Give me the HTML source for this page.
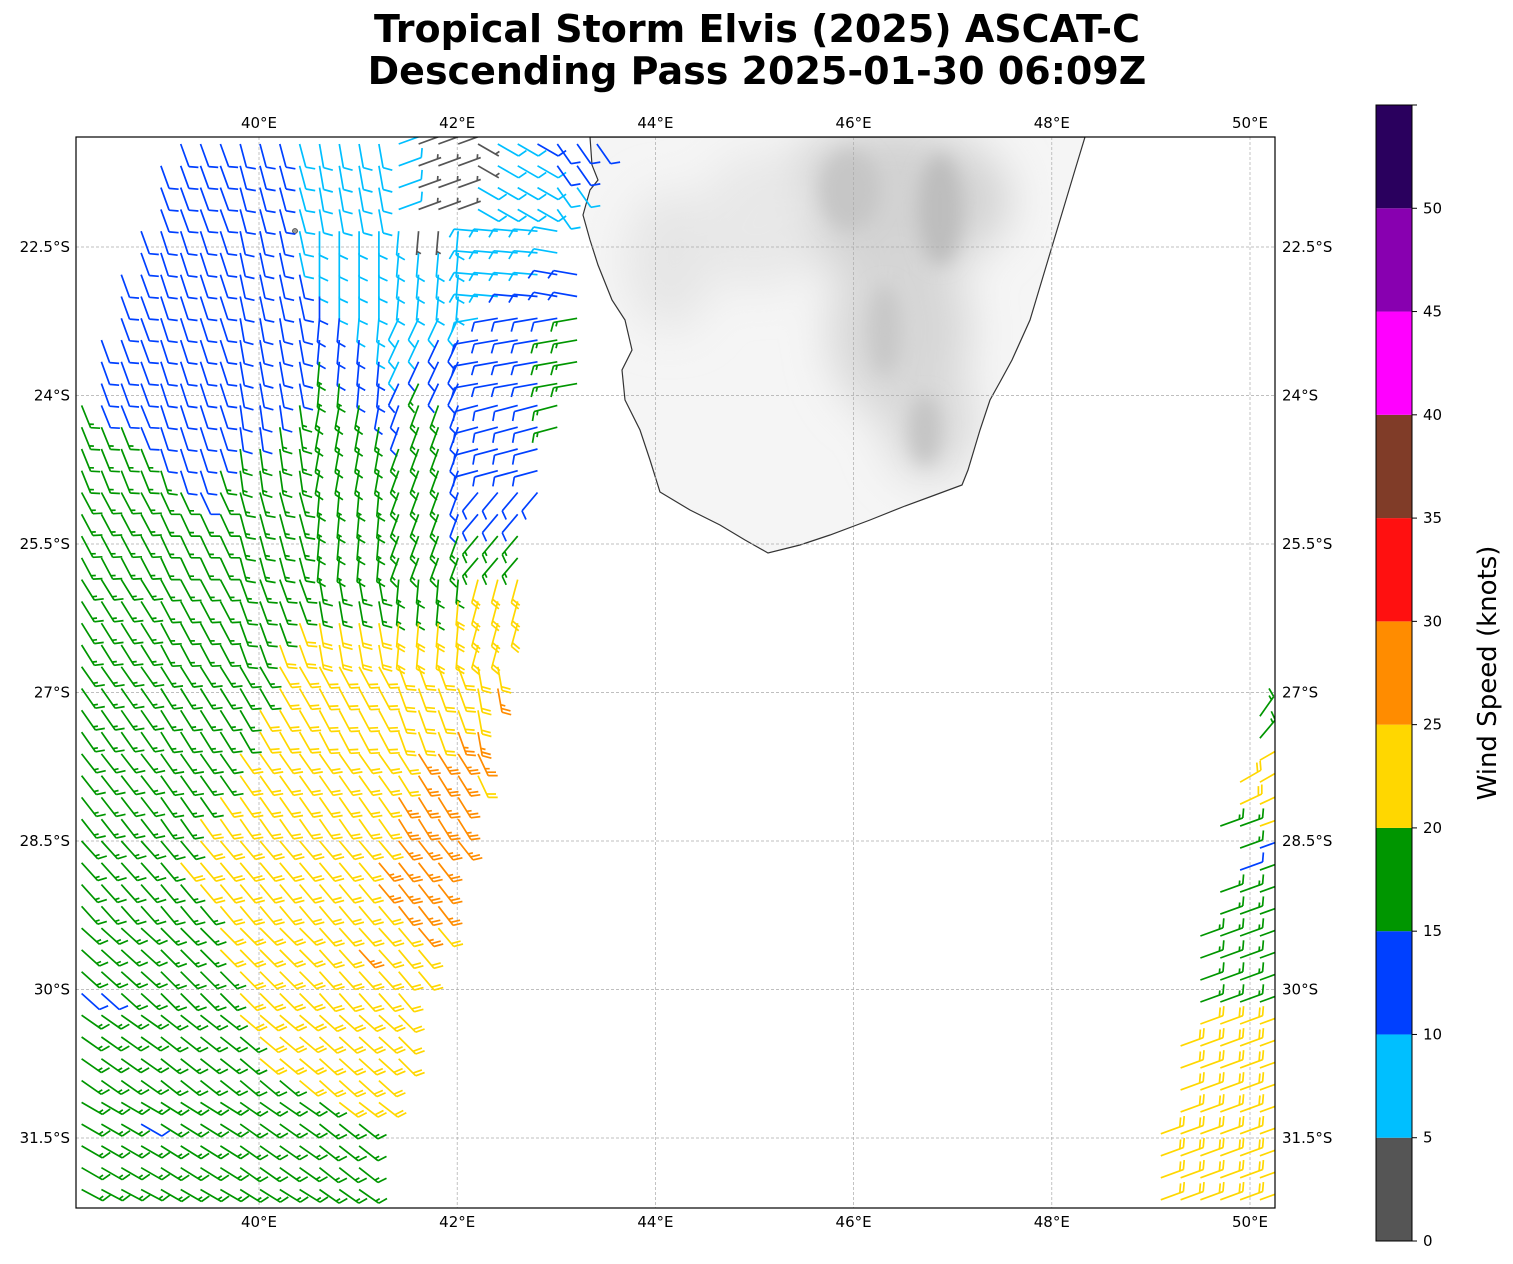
<!DOCTYPE html>
<html><head><meta charset="utf-8"><style>
html,body{margin:0;padding:0;background:#fff;}
svg{display:block;font-family:"DejaVu Sans","Liberation Sans",sans-serif;}
</style></head><body>
<svg id="chart" width="1513" height="1264" viewBox="0 0 1513 1264" xmlns="http://www.w3.org/2000/svg">
<defs>
<clipPath id="plotclip"><rect x="76" y="137" width="1199" height="1071"/></clipPath>
<clipPath id="landclip"><path id="coastpath" d="M590,137 L592,165 L598,180 L590,190 L583,215 L590,240 L598,265 L612,300 L625,320 L632,350 L622,370 L625,400 L640,430 L650,460 L660,492 L690,510 L720,525 L745,540 L768,553 L800,545 L830,535 L870,520 L905,506 L935,495 L962,485 L968,470 L980,430 L990,400 L1000,382 L1012,360 L1030,320 L1045,270 L1060,220 L1075,170 L1085,137 Z"/></clipPath>
<filter id="blur1"><feGaussianBlur stdDeviation="22"/></filter>
<filter id="blur2"><feGaussianBlur stdDeviation="9"/></filter>
</defs>
<text x="757" y="42" text-anchor="middle" font-size="38" font-weight="bold">Tropical Storm Elvis (2025) ASCAT-C</text>
<text x="757" y="84" text-anchor="middle" font-size="38" font-weight="bold">Descending Pass 2025-01-30 06:09Z</text>
<g id="land" clip-path="url(#landclip)">
<rect x="570" y="130" width="530" height="440" fill="#f5f5f5"/>
<g filter="url(#blur1)">
<ellipse cx="890" cy="200" rx="120" ry="75" fill="#d2d2d2"/>
<ellipse cx="900" cy="330" rx="70" ry="90" fill="#d6d6d6"/>
<ellipse cx="670" cy="260" rx="45" ry="70" fill="#e6e6e6"/>
<ellipse cx="760" cy="220" rx="60" ry="70" fill="#e8e8e8"/>
<ellipse cx="930" cy="420" rx="45" ry="60" fill="#d8d8d8"/>
</g>
<g filter="url(#blur2)">
<ellipse cx="940" cy="210" rx="22" ry="55" fill="#bdbdbd"/>
<ellipse cx="925" cy="430" rx="16" ry="35" fill="#c4c4c4"/>
<ellipse cx="850" cy="190" rx="30" ry="40" fill="#c6c6c6"/>
<ellipse cx="885" cy="330" rx="16" ry="45" fill="#c8c8c8"/>
</g>
</g>
<use href="#coastpath" fill="none" stroke="#333" stroke-width="1.2" clip-path="url(#plotclip)"/>
<circle cx="295" cy="231" r="2.5" fill="#999" stroke="#444" stroke-width="0.8"/>
<g id="grid"></g>
<g id="barbs" clip-path="url(#plotclip)"></g>
<rect x="76" y="137" width="1199" height="1071" fill="none" stroke="#000" stroke-width="1.2"/>
<g id="ticklabels" font-size="15"></g>
<g id="colorbar"></g>
<text transform="translate(1496,673) rotate(-90)" text-anchor="middle" font-size="26">Wind Speed (knots)</text>
</svg>
<script>
// ---- data ----
const lonTicks = [40, 42, 44, 46, 48, 50];
const latTicks = [22.5, 24, 25.5, 27, 28.5, 30, 31.5];
const cbBounds = [0, 5, 10, 15, 20, 25, 30, 35, 40, 45, 50, 55];
const cbLabels = [0, 5, 10, 15, 20, 25, 30, 35, 40, 45, 50];
const cbColors = ["#555555","#00bfff","#0040ff","#009600","#ffd700","#ff8c00","#ff1010","#803c28","#ff00ff","#8800b0","#2a005e"];
const catSpeed = [4, 8, 12, 17, 22, 27];
// main swath grid: lon = 38.21 + 0.2*col, lat(S) = 21.46 + 0.22*row
const mainRows = [
".....2222221111110000112222",
"....2222222111111000011122.",
"....2222222111111000111111.",
"....222222211111100011111..",
"...2222222211111100111111..",
"...2222222211111111111111..",
"..222222222211111111111122.",
"..222222222221111111112222.",
"..222222222222111111122223.",
".2222222222222211122222233.",
".2222222222232221222222233.",
".2222222222233222322222233.",
"3222222222233332233222223..",
"3332222222333333233222223..",
"333322223333333333322222...",
"333332233333333333322222...",
"333333233333333333322222...",
"33333333333333333332222....",
"33333333333333333333333....",
"33333333333333333333333....",
"33333333333333333333444....",
"33333333333333333334444....",
"33333333333444444444444....",
"3333333333444444444444.....",
"3333333333444444444444.....",
"3333333333444444444445.....",
"333333333444444444444......",
"333333333444444444455......",
"333333334444444445555......",
"333333334444444445554......",
"33333334444444445555.......",
"33333344444444445555.......",
"33333344444444445555.......",
"3333344444444445555........",
"3333334444444445555........",
"3333333444444444555........",
"3333333444444444454........",
"333333344444445444.........",
"333333334444444444.........",
"22333333444444444..........",
"33333333444444444..........",
"33333333344444444..........",
"33333333344444444..........",
"3333333333344444...........",
"3333333333333444...........",
"333233333333333............",
"333333333333333............",
"333333333333333............",
"333333333333333............"
];
// staff direction (screen degrees) per block of 4 rows x 4 cols
const mainDir = [
[70,70,75,80,340,30,55],
[70,72,78,90,95,185,190],
[70,72,80,95,115,170,170],
[68,72,82,100,110,165,165],
[62,65,75,95,110,130,130],
[58,62,70,80,95,105,105],
[55,58,60,62,70,80,80],
[52,55,55,55,58,65,65],
[48,50,50,50,52,55,55],
[42,45,45,48,50,50,50],
[35,38,40,42,45,45,45],
[30,32,35,38,40,40,40],
[28,30,32,35,38,38,38]
];
// right swath grid: lon = 49.1 + 0.2*col, lat(S) = 27.24 + 0.222*row
const rightRows = [
".....3",".....3",".....4","....44","....44","...334","....32","....23",
"...333","...333","..3333","..3333","..3333","..3333","..4444",".44444",
".44444",".44444",".44444","444444","444444","444444","444444"
];
const rightDir = [-55,-50,-30,-30,-25,-20,-20,-20,-20,-20,-20,-20,-20,-20,-20,-20,-20,-20,-20,-20,-20,-20,-20];

// ---- axes ----
const xOf = lon => 259 + (lon - 40) * 99.1;
const yOf = lat => 247 + (lat - 22.5) * 99.0;
const cbY = v => 1241 - (v / 55) * 1136;
const NS = "http://www.w3.org/2000/svg";
function mk(tag, attrs, parent) {
  const e = document.createElementNS(NS, tag);
  for (const k in attrs) e.setAttribute(k, attrs[k]);
  parent.appendChild(e);
  return e;
}

const grid = document.getElementById('grid');
const tl = document.getElementById('ticklabels');
lonTicks.forEach(lon => {
  const x = xOf(lon);
  const l = mk('line', {x1: x, x2: x, y1: 137, y2: 1208, stroke: '#aaa', 'stroke-width': 0.7, 'stroke-dasharray': '3,2'}, grid);
  
  
  [128, 1227].forEach(y => {
    const t = mk('text', {x: x, y: y, 'text-anchor': 'middle'}, tl);
    t.textContent = lon + '°E';
    
    
  });
});
latTicks.forEach(lat => {
  const y = yOf(lat);
  const l = mk('line', {x1: 76, x2: 1275, y1: y, y2: y, stroke: '#aaa', 'stroke-width': 0.7, 'stroke-dasharray': '3,2'}, grid);
  
  
  const t1 = mk('text', {x: 70, y: y + 5, 'text-anchor': 'end'}, tl);
  t1.textContent = lat + '°S';
  
  
  const t2 = mk('text', {x: 1282, y: y + 5, 'text-anchor': 'start'}, tl);
  t2.textContent = lat + '°S';
  
  
});

const cb = document.getElementById('colorbar');
for (let i = 0; i < cbColors.length; i++) {
  const y1 = cbY(cbBounds[i + 1]), y0 = cbY(cbBounds[i]);
  const r = mk('rect', {x: 1376, y: y1, width: 36, height: y0 - y1, fill: cbColors[i]}, cb);
  
  
}
mk('rect', {x: 1376, y: cbY(55), width: 36, height: cbY(0) - cbY(55), fill: 'none', stroke: '#000', 'stroke-width': 1}, cb);
mk('line', {x1: 1412, x2: 1417, y1: cbY(55), y2: cbY(55), stroke: '#000'}, cb);
cbLabels.forEach(v => {
  const y = cbY(v);
  mk('line', {x1: 1412, x2: 1417, y1: y, y2: y, stroke: '#000'}, cb);
  const t = mk('text', {x: 1423, y: y + 5, 'font-size': 15}, cb);
  t.textContent = v;
  
  
});

const barbsG = document.getElementById('barbs');
const L = 24, FULL = 9.5, SP = 3.8;
function barb(x, y, angDeg, kt, color) {
  const s = Math.round(kt / 5) * 5;
  const a = angDeg * Math.PI / 180, dx = Math.cos(a), dy = Math.sin(a);
  const b = (angDeg - 65) * Math.PI / 180, bx = Math.cos(b), by = Math.sin(b);
  const tx = x + L * dx, ty = y + L * dy;
  let d = `M${x.toFixed(1)},${y.toFixed(1)}L${tx.toFixed(1)},${ty.toFixed(1)}`;
  const nf = Math.floor(s / 10), half = (s % 10) >= 5;
  let k = 0;
  for (; k < nf; k++) {
    const px = tx - k * SP * dx, py = ty - k * SP * dy;
    d += `M${px.toFixed(1)},${py.toFixed(1)}l${(FULL * bx).toFixed(1)},${(FULL * by).toFixed(1)}`;
  }
  if (half) {
    const kk = nf === 0 ? 1 : k;
    const px = tx - kk * SP * dx, py = ty - kk * SP * dy;
    d += `M${px.toFixed(1)},${py.toFixed(1)}l${(FULL * 0.5 * bx).toFixed(1)},${(FULL * 0.5 * by).toFixed(1)}`;
  }
  const p = mk('path', {d: d, stroke: color, 'stroke-width': 1.7, fill: 'none', 'stroke-linecap': 'butt'}, barbsG);
  
  
}
mainRows.forEach((row, r) => {
  for (let c = 0; c < row.length; c++) {
    const ch = row[c];
    if (ch === '.') continue;
    const cat = +ch;
    const ang = mainDir[Math.floor(r / 4)][Math.min(6, Math.floor(c / 4))];
    barb(xOf(38.21 + 0.2 * c), yOf(21.46 + 0.22 * r), ang, catSpeed[cat], cbColors[cat]);
  }
});
rightRows.forEach((row, r) => {
  for (let c = 0; c < row.length; c++) {
    const ch = row[c];
    if (ch === '.') continue;
    const cat = +ch;
    barb(xOf(49.1 + 0.2 * c), yOf(27.24 + 0.222 * r), rightDir[r], catSpeed[cat], cbColors[cat]);
  }
});
</script>
</body></html>
